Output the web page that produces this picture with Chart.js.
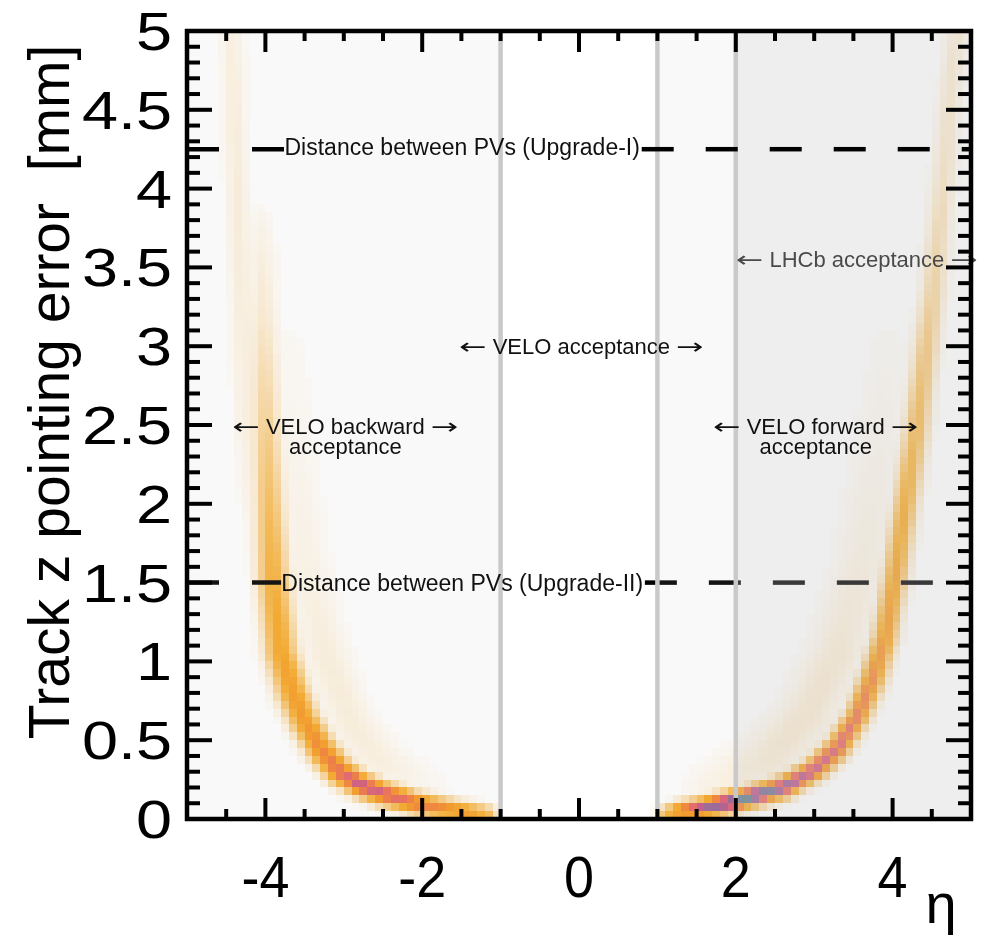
<!DOCTYPE html>
<html>
<head>
<meta charset="utf-8">
<script src="https://cdn.jsdelivr.net/npm/chart.js@4.4.1/dist/chart.umd.min.js"></script>
<style>
  html, body { margin: 0; padding: 0; background: #fff; }
  canvas { display: block; }
</style>
</head>
<body>
<canvas id="chart" width="981" height="937"></canvas>
<script>
// --- Data ---
// ridge of the 2D histogram (eta, pointing error [mm], relative density, spread)
const rightRidgeEta   = [1.1, 1.3, 1.6, 1.9, 2.2, 2.6, 3.0, 3.3, 3.55, 3.75, 3.9, 4.02, 4.15, 4.3, 4.42, 4.53, 4.65, 4.75, 4.82];
const rightRidgeErr   = [0.03, 0.05, 0.07, 0.1, 0.14, 0.2, 0.31, 0.45, 0.65, 0.9, 1.15, 1.5, 1.95, 2.45, 2.95, 3.4, 4.05, 4.7, 5.0];
const rightRidgeLevel = [0.3, 0.62, 0.86, 0.95, 1.0, 0.9, 0.78, 0.72, 0.64, 0.57, 0.5, 0.46, 0.4, 0.32, 0.24, 0.16, 0.1, 0.08, 0.07];
const rightRidgeSpread = [0.07, 0.075, 0.08, 0.085, 0.085, 0.09, 0.09, 0.095, 0.095, 0.1, 0.1, 0.1, 0.1, 0.1, 0.1, 0.1, 0.1, 0.1, 0.1];

const leftRidgeEta   = [-1.15, -1.4, -1.8, -2.1, -2.5, -2.8, -3.05, -3.3, -3.5, -3.65, -3.8, -3.9, -3.95, -4.0, -4.03, -4.06];
const leftRidgeErr   = [0.03, 0.04, 0.07, 0.1, 0.16, 0.22, 0.3, 0.45, 0.62, 0.8, 1.05, 1.5, 2.0, 2.6, 3.2, 3.8];
const leftRidgeLevel = [0.3, 0.5, 0.56, 0.63, 0.74, 0.8, 0.66, 0.56, 0.5, 0.47, 0.43, 0.37, 0.28, 0.17, 0.08, 0.03];
const leftRidgeSpread = [0.07, 0.075, 0.085, 0.09, 0.095, 0.1, 0.11, 0.12, 0.125, 0.13, 0.13, 0.13, 0.12, 0.12, 0.12, 0.12];

// faint outer band on the backward side
const leftOuterEta   = [-4.15, -4.25, -4.32, -4.38, -4.43];
const leftOuterErr   = [1.5, 2.5, 3.5, 4.3, 5.0];
const leftOuterLevel = [0.01, 0.05, 0.06, 0.06, 0.05];

// diffuse haze inside the curves
const leftHaloEta    = [-1.9, -2.5, -2.9, -3.2, -3.45, -3.6, -3.7];
const leftHaloErr    = [0.2, 0.35, 0.6, 1.0, 1.5, 2.2, 3.0];
const leftHaloLevel  = [0.02, 0.05, 0.06, 0.06, 0.045, 0.03, 0.015];
const rightHaloEta   = [1.7, 2.4, 2.9, 3.3, 3.6, 3.8, 3.95];
const rightHaloErr   = [0.2, 0.38, 0.65, 1.05, 1.6, 2.3, 3.0];
const rightHaloLevel = [0.04, 0.07, 0.08, 0.07, 0.05, 0.03, 0.015];

// reference lines / regions
const pvDistUpgrade1 = 4.25;
const pvDistUpgrade2 = 1.5;
const veloBackward = [-5, -1];
const veloForward = [1, 5];
const lhcbAcceptance = [2, 5];

// axes
const xTickValues = [-4, -2, 0, 2, 4];
const xTickLabels = ['-4', '-2', '0', '2', '4'];
const yTickValues = [0, 0.5, 1, 1.5, 2, 2.5, 3, 3.5, 4, 4.5, 5];
const yTickLabels = ['0', '0.5', '1', '1.5', '2', '2.5', '3', '3.5', '4', '4.5', '5'];

const FONT = '"Liberation Sans", Arial, Helvetica, sans-serif';
const ETA_BIN = 0.1, ERR_BIN = 0.05;

// --- Build histogram cells from the ridges ---
function ridgeValue(eta, err, xs, ys, ls, ws) {
    let best = 0;
    const px = eta, py = err * 2;
    for (let k = 0; k < xs.length - 1; k++) {
        const ax = xs[k], ay = ys[k] * 2, bx = xs[k + 1], by = ys[k + 1] * 2;
        const dx = bx - ax, dy = by - ay;
        let t = ((px - ax) * dx + (py - ay) * dy) / (dx * dx + dy * dy);
        t = Math.max(0, Math.min(1, t));
        const d2 = (px - ax - t * dx) ** 2 + (py - ay - t * dy) ** 2;
        const L = ls[k] + t * (ls[k + 1] - ls[k]);
        const w = Array.isArray(ws) ? ws[k] + t * (ws[k + 1] - ws[k]) : ws;
        const v = L * Math.exp(-0.5 * d2 / (w * w));
        if (v > best) best = v;
    }
    return best;
}

const heatCells = [];
for (let i = 0; i < 100; i++) {
    const eta = -5 + i * ETA_BIN;
    for (let j = 0; j < 100; j++) {
        const err = j * ERR_BIN;
        const ce = eta + ETA_BIN / 2, cr = err + ERR_BIN / 2;
        const v = Math.max(
            ridgeValue(ce, cr, rightRidgeEta, rightRidgeErr, rightRidgeLevel, rightRidgeSpread),
            ridgeValue(ce, cr, leftRidgeEta, leftRidgeErr, leftRidgeLevel, leftRidgeSpread),
            ridgeValue(ce, cr, leftOuterEta, leftOuterErr, leftOuterLevel, 0.1),
            ridgeValue(ce, cr, leftHaloEta, leftHaloErr, leftHaloLevel, 0.2),
            ridgeValue(ce, cr, rightHaloEta, rightHaloErr, rightHaloLevel, 0.24)
        );
        if (v > 0.01) heatCells.push({ eta, err, v });
    }
}

// colour palette (value -> rgba)
const paletteStops = [
    [0.0, 250, 205, 130, 0.0],
    [0.05, 248, 198, 115, 0.2],
    [0.12, 247, 190, 95, 0.45],
    [0.2, 247, 184, 80, 0.7],
    [0.3, 248, 180, 62, 0.93],
    [0.4, 249, 168, 36, 1],
    [0.5, 247, 150, 32, 1],
    [0.6, 243, 122, 56, 1],
    [0.7, 231, 98, 100, 1],
    [0.8, 198, 84, 136, 1],
    [0.9, 138, 102, 152, 1],
    [1.0, 84, 136, 140, 1]
];
function paletteColor(v) {
    v = Math.min(1, v);
    for (let k = 0; k < paletteStops.length - 1; k++) {
        const a = paletteStops[k], b = paletteStops[k + 1];
        if (v <= b[0]) {
            const t = (v - a[0]) / (b[0] - a[0]);
            const c = [1, 2, 3, 4].map(n => a[n] + t * (b[n] - a[n]));
            return `rgba(${Math.round(c[0])},${Math.round(c[1])},${Math.round(c[2])},${c[3].toFixed(3)})`;
        }
    }
    return 'rgb(84,136,140)';
}

// text with long arrows (arrow glyphs are stretched to match the original)
function drawLabel(ctx, s, px, py, size, color, align) {
    const runs = s.split(/([\u2190\u2192])/).filter(r => r.length);
    const arrowFont = `${size}px "DejaVu Sans", ${FONT}`;
    const textFont = `${size}px ${FONT}`;
    const arrowW = size * 1.25;
    const widths = runs.map(r => {
        if (r === '\u2190' || r === '\u2192') return arrowW;
        ctx.font = textFont;
        return ctx.measureText(r).width;
    });
    const total = widths.reduce((a, b) => a + b, 0);
    let x0 = align === 'left' ? px : px - total / 2;
    ctx.fillStyle = color;
    ctx.textAlign = 'left';
    ctx.textBaseline = 'alphabetic';
    runs.forEach((r, i) => {
        if (r === '\u2190' || r === '\u2192') {
            ctx.font = arrowFont;
            const w = ctx.measureText(r).width;
            ctx.save();
            ctx.translate(x0, py);
            ctx.scale(arrowW / w, 1);
            ctx.fillText(r, 0, 0);
            ctx.restore();
        } else {
            ctx.font = textFont;
            ctx.fillText(r, x0, py);
        }
        x0 += widths[i];
    });
}

// --- Drawing helpers (everything goes through the chart scales) ---
let shadeDone = false;
const histPlugin = {
    id: 'hist',
    beforeDatasetsDraw(chart) {
        const { ctx, chartArea: a, scales: { x, y } } = chart;
        shadeDone = false;
        ctx.save();
        ctx.fillStyle = '#ffffff';
        ctx.fillRect(a.left, a.top, a.right - a.left, a.bottom - a.top);
        heatCells.forEach(c => {
            const x0 = Math.round(x.getPixelForValue(c.eta));
            const x1 = Math.round(x.getPixelForValue(c.eta + ETA_BIN));
            const y0 = Math.round(y.getPixelForValue(c.err + ERR_BIN));
            const y1 = Math.round(y.getPixelForValue(c.err));
            ctx.fillStyle = paletteColor(c.v);
            ctx.fillRect(x0, y0, x1 - x0, y1 - y0);
        });
        ctx.restore();
    },
    beforeDatasetDraw(chart, args) {
        const ds = chart.data.datasets[args.index];
        if (ds.role !== 'edge' || shadeDone) return;
        shadeDone = true;
        const { ctx, chartArea: a, scales: { x } } = chart;
        ctx.save();
        const box = (r, col) => {
            const x0 = x.getPixelForValue(r[0]), x1 = x.getPixelForValue(r[1]);
            ctx.fillStyle = col;
            ctx.fillRect(x0, a.top, x1 - x0, a.bottom - a.top);
        };
        box(veloBackward, 'rgba(200,200,200,0.1)');
        box(veloForward, 'rgba(200,200,200,0.1)');
        box(lhcbAcceptance, 'rgba(200,200,200,0.21)');
        ctx.restore();
    },
    afterDatasetsDraw(chart) {
        const { ctx, scales: { x, y } } = chart;
        const text = (s, eta, err, dy, size, color, align) =>
            drawLabel(ctx, s, x.getPixelForValue(eta), y.getPixelForValue(err) + dy, size, color, align);
        ctx.save();
        text('Distance between PVs (Upgrade-I)', -1.49, pvDistUpgrade1, 6, 23, '#111');
        text('Distance between PVs (Upgrade-II)', -1.49, pvDistUpgrade2, 8, 23, '#111');
        text('\u2190 VELO acceptance \u2192', 0.03, 3.0, 8, 22, '#111');
        text('\u2190 VELO backward \u2192', -2.98, 2.5, 9, 22, '#111');
        text('acceptance', -2.98, 2.5, 29, 22, '#111');
        text('\u2190 VELO forward \u2192', 3.02, 2.5, 9, 22, '#111');
        text('acceptance', 3.02, 2.5, 29, 22, '#111');
        text('\u2190 LHCb acceptance \u2192', 2.0, 3.55, 7, 22, '#4a4a4a', 'left');
        ctx.restore();
    },
    afterDraw(chart) {
        const { ctx, chartArea: a, scales: { x, y } } = chart;
        ctx.save();
        ctx.strokeStyle = '#000';
        ctx.lineWidth = 4;
        const tick = (x0, y0, x1, y1) => { ctx.beginPath(); ctx.moveTo(x0, y0); ctx.lineTo(x1, y1); ctx.stroke(); };
        // x ticks (major every 2, minor every 0.5), inside, top and bottom
        for (let k = -9; k <= 9; k++) {
            const v = k * 0.5;
            const major = xTickValues.includes(v);
            const len = major ? 21 : 10;
            const px = x.getPixelForValue(v);
            tick(px, a.bottom, px, a.bottom - len);
            tick(px, a.top, px, a.top + len);
        }
        // y ticks (major every 0.5, minor every 0.1), inside, left and right
        for (let k = 1; k < 50; k++) {
            const v = k / 10;
            const major = k % 5 === 0;
            const len = major ? 25 : 13;
            const py = y.getPixelForValue(v);
            tick(a.left, py, a.left + len, py);
            tick(a.right, py, a.right - len, py);
        }
        // frame
        ctx.lineWidth = 4.5;
        ctx.strokeRect(a.left, a.top, a.right - a.left, a.bottom - a.top);

        // tick labels
        ctx.fillStyle = '#000';
        ctx.font = `58px ${FONT}`;
        ctx.textAlign = 'center';
        ctx.textBaseline = 'alphabetic';
        xTickValues.forEach((v, i) => {
            ctx.save();
            ctx.translate(x.getPixelForValue(v), 897);
            ctx.scale(0.93, 1);
            ctx.fillText(xTickLabels[i], 0, 0);
            ctx.restore();
        });
        ctx.font = `54px ${FONT}`;
        ctx.textAlign = 'right';
        yTickValues.forEach((v, i) => {
            ctx.save();
            ctx.translate(172, y.getPixelForValue(v) + 19);
            ctx.scale(1.2, 1);
            ctx.fillText(yTickLabels[i], 0, 0);
            ctx.restore();
        });
        // axis titles
        ctx.font = `57px ${FONT}`;
        ctx.textAlign = 'center';
        ctx.save();
        ctx.translate(69, 392);
        ctx.rotate(-Math.PI / 2);
        ctx.fillText('Track z pointing error  [mm]', 0, 0);
        ctx.restore();
        ctx.font = `56px ${FONT}`;
        ctx.fillText('\u03B7', 941, 923);
        ctx.restore();
    }
};

const lineDs = (pts, color, width, dash, order, role) => ({
    data: pts, borderColor: color, borderWidth: width, borderDash: dash || [],
    pointRadius: 0, fill: false, tension: 0, order, role
});

new Chart(document.getElementById('chart'), {
    type: 'line',
    data: {
        datasets: [
            lineDs([{ x: -5, y: pvDistUpgrade1 }, { x: -3.76, y: pvDistUpgrade1 }], '#000', 4.5, [32, 33], 1),
            lineDs([{ x: 0.8, y: pvDistUpgrade1 }, { x: 5, y: pvDistUpgrade1 }], '#000', 4.5, [32, 32], 1),
            lineDs([{ x: veloBackward[1], y: 0 }, { x: veloBackward[1], y: 5 }], '#c9c9c9', 4.5, null, 2, 'edge'),
            lineDs([{ x: veloForward[0], y: 0 }, { x: veloForward[0], y: 5 }], '#c9c9c9', 4.5, null, 2, 'edge'),
            lineDs([{ x: lhcbAcceptance[0], y: 0 }, { x: lhcbAcceptance[0], y: 5 }], '#c9c9c9', 4.5, null, 2, 'edge'),
            lineDs([{ x: -5, y: pvDistUpgrade2 }, { x: -3.8, y: pvDistUpgrade2 }], '#000', 4.5, [32, 33], 3),
            lineDs([{ x: 0.84, y: pvDistUpgrade2 }, { x: 5, y: pvDistUpgrade2 }], '#000', 4.5, [32, 32], 3)
        ]
    },
    options: {
        responsive: false,
        animation: false,
        devicePixelRatio: 1,
        layout: { padding: { left: 187, right: 10, top: 31, bottom: 118 } },
        plugins: { legend: { display: false }, tooltip: { enabled: false } },
        scales: {
            x: { type: 'linear', min: -5, max: 5, display: false },
            y: { type: 'linear', min: 0, max: 5, display: false }
        }
    },
    plugins: [histPlugin]
});
</script>
</body>
</html>
